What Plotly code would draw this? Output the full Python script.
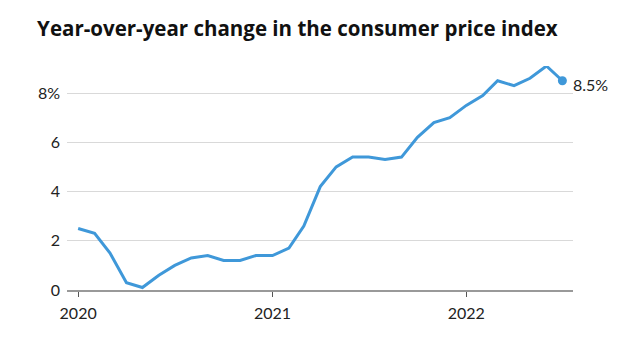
import plotly.graph_objects as go
import pandas as pd

# Monthly CPI, year-over-year percent change
months = pd.date_range("2020-01-01", "2022-07-01", freq="MS")
cpi_yoy = [2.5, 2.3, 1.5, 0.3, 0.1, 0.6, 1.0, 1.3, 1.4, 1.2, 1.2, 1.4,
           1.4, 1.7, 2.6, 4.2, 5.0, 5.4, 5.4, 5.3, 5.4, 6.2, 6.8, 7.0,
           7.5, 7.9, 8.5, 8.3, 8.6, 9.1, 8.5]

y_ticks = [0, 2, 4, 6, 8]
y_labels = ["0", "2", "4", "6", "8%"]
x_ticks = ["2020-01-01", "2021-01-01", "2022-01-01"]
x_labels = ["2020", "2021", "2022"]

LINE = "#3f98d9"
TEXT = "#222222"
FONT = "Lato"

fig = go.Figure()
fig.add_trace(go.Scatter(
    x=months, y=cpi_yoy, mode="lines",
    line=dict(color=LINE, width=3), hoverinfo="skip", showlegend=False,
))
# Highlight the latest reading
fig.add_trace(go.Scatter(
    x=[months[-1]], y=[cpi_yoy[-1]], mode="markers",
    marker=dict(color=LINE, size=9), cliponaxis=False,
    hoverinfo="skip", showlegend=False,
))
fig.add_annotation(
    x=months[-1], y=cpi_yoy[-1], text=f"{cpi_yoy[-1]}%",
    showarrow=False, xanchor="left", yanchor="middle", xshift=9, yshift=-4,
    font=dict(family=FONT, size=16, color=TEXT),
)

fig.update_layout(
    width=640, height=345,
    margin=dict(l=67, r=67, t=66, b=55),
    paper_bgcolor="white", plot_bgcolor="white",
    title=dict(
        text="<b>Year-over-year change in the consumer price index</b>",
        x=0.058, xanchor="left", y=0.917, yanchor="middle",
        font=dict(family="Open Sans", size=20.5, color="#111111"),
    ),
    xaxis=dict(
        range=["2019-12-11", "2022-07-21"],
        tickvals=x_ticks, ticktext=x_labels,
        ticks="outside", ticklen=5, tickwidth=1.2, tickcolor="#555555",
        showgrid=False, showline=True, linecolor="#999999", linewidth=1.5,
        ticklabelstandoff=3,
        tickfont=dict(family=FONT, size=16, color=TEXT),
        zeroline=False,
    ),
    yaxis=dict(
        range=[0, 9.1],
        tickvals=y_ticks, ticktext=y_labels,
        showgrid=True, gridcolor="#d9d9d9", gridwidth=1,
        zeroline=False, showline=False, ticks="",
        ticklabelstandoff=6,
        tickfont=dict(family=FONT, size=16, color=TEXT),
    ),
)

fig.write_html("out.html")
